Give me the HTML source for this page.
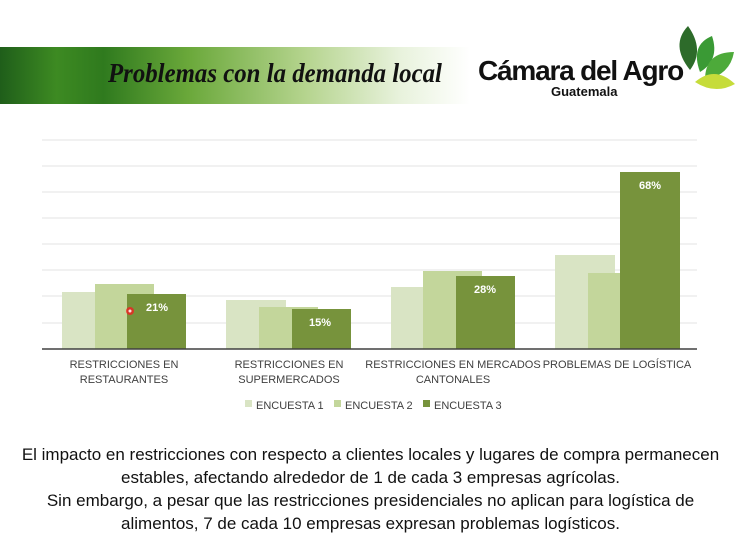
<!DOCTYPE html>
<html><head><meta charset="utf-8"><style>
body{margin:0;width:741px;height:556px;background:#fff;overflow:hidden;position:relative;font-family:"Liberation Sans",sans-serif}
.banner{position:absolute;left:0;top:47px;width:470px;height:57px;background:linear-gradient(90deg,#1f5e1a 0%,#3d8a22 12%,#2f7a1e 22%,#6aa83a 40%,#b5d48e 65%,#e8f2dc 85%,#fff 100%)}
.title{position:absolute;left:108px;top:58px;font-family:"Liberation Serif",serif;font-style:italic;font-weight:bold;font-size:27px;color:#111;transform:scaleX(.92);transform-origin:left;white-space:nowrap}
.logo{position:absolute;left:478px;top:55px;font-size:28px;font-weight:bold;color:#111;letter-spacing:-1.2px;white-space:nowrap}
.guat{position:absolute;left:551px;top:84px;font-size:13px;font-weight:bold;color:#111}
.lbl{position:absolute;font-size:11px;color:#404040;text-align:center;line-height:15px;white-space:nowrap}
.bt{position:absolute;left:0;width:741px;top:443px;text-align:center;font-size:17px;line-height:23px;color:#111}
</style></head><body>
<div class="banner"></div>
<div class="title">Problemas con la demanda local</div>
<div class="logo">Cámara del Agro</div>
<div class="guat">Guatemala</div>
<svg style="position:absolute;left:0;top:0" width="741" height="556">
<g>
<path d="M688 26 Q670 45 690 70 Q705 50 688 26Z" fill="#2d6b2a"/>
<path d="M712 36 Q690 45 700 72 Q720 60 712 36Z" fill="#3a9a35"/>
<path d="M734 52 Q705 52 705 80 Q730 75 734 52Z" fill="#4daa3a"/>
<path d="M735 84 Q715 65 695 82 Q715 95 735 84Z" fill="#c6dc3a"/>
</g>
<g stroke="#e3e3e3" stroke-width="1">
<line x1="42" y1="140" x2="697" y2="140"/><line x1="42" y1="166" x2="697" y2="166"/><line x1="42" y1="192" x2="697" y2="192"/><line x1="42" y1="218" x2="697" y2="218"/><line x1="42" y1="244" x2="697" y2="244"/><line x1="42" y1="270" x2="697" y2="270"/><line x1="42" y1="296" x2="697" y2="296"/><line x1="42" y1="323" x2="697" y2="323"/>
</g>
<g>
<rect x="62" y="292" width="60" height="57" fill="#d9e4c4"/><rect x="95" y="284" width="59" height="65" fill="#c3d69b"/><rect x="127" y="294" width="59" height="55" fill="#77933c"/>
<rect x="226" y="300" width="60" height="49" fill="#d9e4c4"/><rect x="259" y="307" width="59" height="42" fill="#c3d69b"/><rect x="292" y="309" width="59" height="40" fill="#77933c"/>
<rect x="391" y="287" width="60" height="62" fill="#d9e4c4"/><rect x="423" y="271" width="59" height="78" fill="#c3d69b"/><rect x="456" y="276" width="59" height="73" fill="#77933c"/>
<rect x="555" y="255" width="60" height="94" fill="#d9e4c4"/><rect x="588" y="273" width="59" height="76" fill="#c3d69b"/><rect x="620" y="172" width="60" height="177" fill="#77933c"/>
</g>
<line x1="42" y1="349" x2="697" y2="349" stroke="#404040" stroke-width="1.5"/>
<g fill="#fff" font-size="11" font-weight="bold" text-anchor="middle" font-family="Liberation Sans,sans-serif">
<text x="157" y="311">21%</text><text x="320" y="326">15%</text><text x="485" y="293">28%</text><text x="650" y="189">68%</text>
</g>
<circle cx="130" cy="311" r="4" fill="#e22" opacity=".8"/><circle cx="130" cy="311" r="1.5" fill="#fdd"/>
<g font-size="11" fill="#404040" font-family="Liberation Sans,sans-serif">
<rect x="245" y="400" width="7" height="7" fill="#d9e4c4"/><text x="256" y="409">ENCUESTA 1</text>
<rect x="334" y="400" width="7" height="7" fill="#c3d69b"/><text x="345" y="409">ENCUESTA 2</text>
<rect x="423" y="400" width="7" height="7" fill="#77933c"/><text x="434" y="409">ENCUESTA 3</text>
</g>
</svg>
<div class="lbl" style="left:54px;top:358px;width:140px">RESTRICCIONES EN<br>RESTAURANTES</div>
<div class="lbl" style="left:219px;top:358px;width:140px">RESTRICCIONES EN<br>SUPERMERCADOS</div>
<div class="lbl" style="left:353px;top:358px;width:200px">RESTRICCIONES EN MERCADOS<br>CANTONALES</div>
<div class="lbl" style="left:537px;top:358px;width:160px">PROBLEMAS DE LOGÍSTICA</div>
<div class="bt">El impacto en restricciones con respecto a clientes locales y lugares de compra permanecen<br>estables, afectando alrededor de 1 de cada 3 empresas agrícolas.<br>Sin embargo, a pesar que las restricciones presidenciales no aplican para logística de<br>alimentos, 7 de cada 10 empresas expresan problemas logísticos.</div>
</body></html>
